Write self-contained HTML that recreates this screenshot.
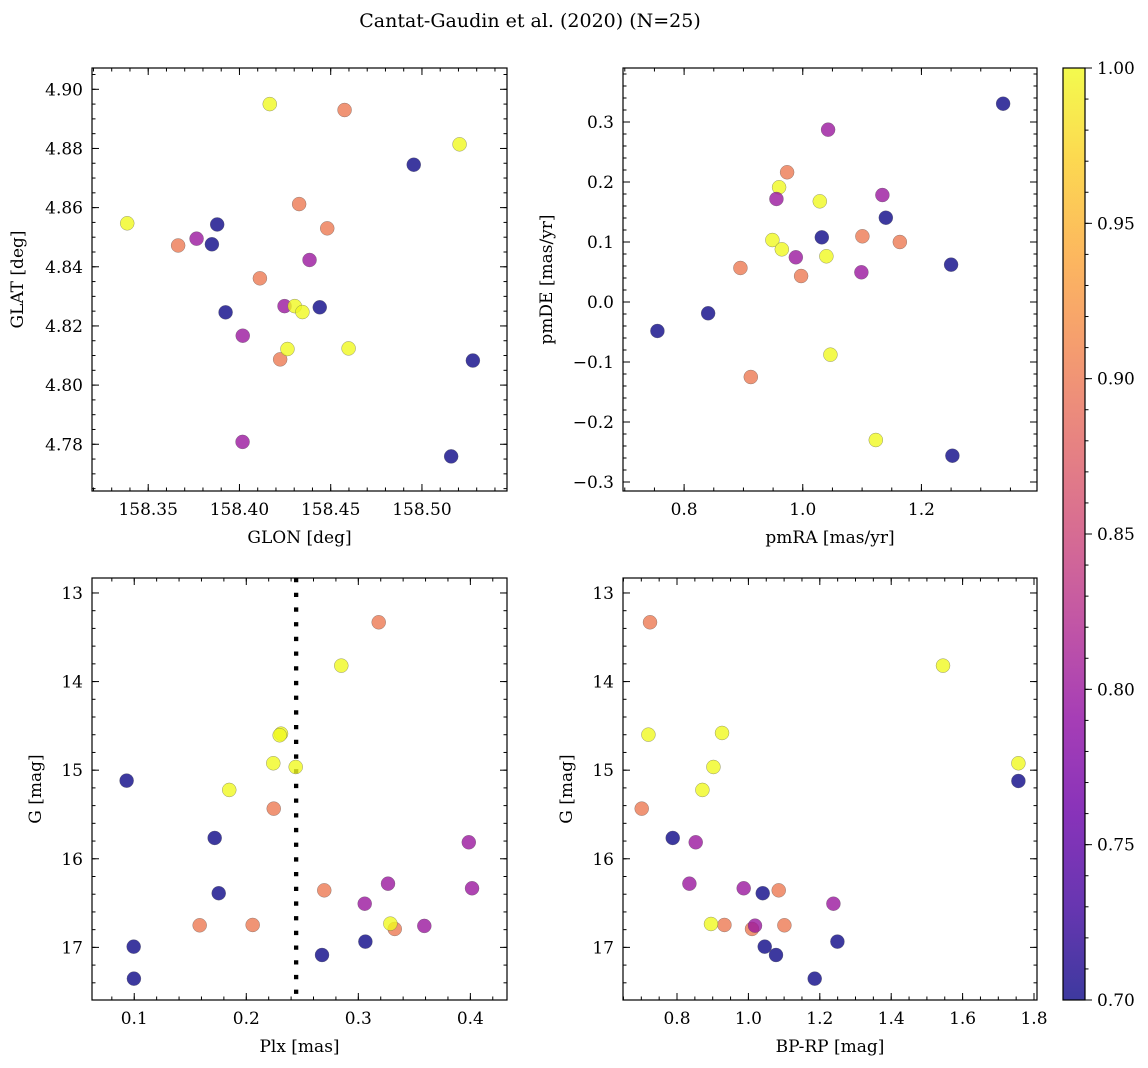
<!DOCTYPE html>
<html><head><meta charset="utf-8"><style>
html,body{margin:0;padding:0;background:#fff;}
svg{display:block;font-family:"DejaVu Serif","Liberation Serif",serif;}
</style></head><body>
<svg id="fig" width="1148" height="1068" viewBox="0 0 1148 1068" xmlns="http://www.w3.org/2000/svg">
<text x="530" y="27" text-anchor="middle" font-size="19">Cantat-Gaudin et al. (2020) (N=25)</text>
</svg>
<script>
// ---- data ----
const glon=[158.3385,158.3664,158.3765,158.3878,158.3849,158.3924,158.4018,158.4017,158.4112,158.4166,158.4223,158.4247,158.4263,158.4303,158.4345,158.4327,158.4384,158.4440,158.4481,158.4576,158.4598,158.4955,158.5206,158.5279,158.5160];
const glat=[4.8547,4.8472,4.8495,4.8543,4.8476,4.8246,4.8167,4.7808,4.8361,4.8950,4.8087,4.8267,4.8122,4.8267,4.8247,4.8612,4.8423,4.8263,4.8530,4.8930,4.8124,4.8745,4.8814,4.8083,4.7759];
const probTL=[1,0.9,0.8,0.7,0.7,0.7,0.8,0.8,0.9,1,0.9,0.8,1,1,1,0.9,0.8,0.7,0.9,0.9,1,0.7,1,0.7,0.7];

const pmra=[1.3377,1.0427,0.9736,0.9601,0.9556,1.0287,1.1342,1.1400,1.0321,1.1005,1.1636,0.9488,0.9647,0.9883,1.0398,0.8949,0.9972,1.0988,1.2500,0.8405,0.7550,1.0466,0.9124,1.1231,1.2522];
const pmde=[0.3305,0.2872,0.2162,0.1912,0.1717,0.1678,0.1783,0.1405,0.1078,0.1095,0.1000,0.1033,0.0878,0.0745,0.0762,0.0567,0.0433,0.0495,0.0622,-0.0188,-0.0483,-0.0878,-0.125,-0.230,-0.2562];
const probTR=[0.7,0.8,0.9,1,0.8,1,0.8,0.7,0.7,0.9,0.9,1,1,0.8,1,0.9,0.9,0.8,0.7,0.7,0.7,1,0.9,1,0.7];

const plx=[0.3182,0.2848,0.2310,0.2298,0.2241,0.2441,0.0932,0.1848,0.2245,0.1718,0.3986,0.3265,0.4015,0.1754,0.2696,0.3057,0.1584,0.2057,0.3325,0.3286,0.3589,0.3063,0.0995,0.2676,0.0997];
const gmagBL=[13.331,13.820,14.588,14.606,14.922,14.964,15.118,15.223,15.434,15.765,15.814,16.281,16.333,16.389,16.356,16.507,16.751,16.747,16.792,16.732,16.758,16.935,16.992,17.086,17.353];
const probBL=[0.9,1,1,1,1,1,0.7,1,0.9,0.7,0.8,0.8,0.8,0.7,0.9,0.8,0.9,0.9,0.9,1,0.8,0.7,0.7,0.7,0.7];
const plxCut=[0.2445];

const bprp=[0.7244,1.5451,0.7199,0.9261,0.9020,1.7563,1.7563,0.8711,0.7011,0.7880,0.8524,0.8347,0.9868,1.0401,1.0849,1.2381,0.9328,0.8952,1.0101,1.0185,1.1008,1.2493,1.0457,1.0773,1.1857];
const gmagBR=[13.331,13.820,14.599,14.580,14.964,14.922,15.122,15.223,15.434,15.765,15.814,16.281,16.333,16.389,16.356,16.507,16.747,16.736,16.792,16.755,16.751,16.935,16.992,17.086,17.353];
const probBR=[0.9,1,1,1,1,1,0.7,1,0.9,0.7,0.8,0.8,0.8,0.7,0.9,0.8,0.9,1,0.9,0.8,0.9,0.7,0.7,0.7,0.7];

const cbTicks=[0.70,0.75,0.80,0.85,0.90,0.95,1.00];

// ---- helpers ----
const NS="http://www.w3.org/2000/svg";
const fig=document.getElementById('fig');
function mk(tag,attrs,parent){const e=document.createElementNS(NS,tag);for(const k in attrs)e.setAttribute(k,attrs[k]);(parent||fig).appendChild(e);return e;}
const stops=[[13,8,135],[65,4,157],[106,0,168],[143,13,164],[177,42,144],[204,71,120],[225,100,98],[242,132,75],[252,166,54],[252,206,37],[240,249,33]];
function plasma(t){t=Math.max(0,Math.min(1,t));const f=t*10,i=Math.min(9,Math.floor(f)),u=f-i;const a=stops[i],b=stops[i+1];return 'rgb('+a.map((v,k)=>Math.round(v+(b[k]-v)*u)).join(',')+')';}
function fmt(v,d){const s=Math.abs(v).toFixed(d);return (v< -1e-9?'\u2212':'')+s;}

function panel(o){
  const g=mk('g',{});
  
  
  const sx=v=>o.x0+(v-o.xd[0])/(o.xd[1]-o.xd[0])*(o.x1-o.x0);
  const sy=v=>o.inv? o.y0+(v-o.yd[0])/(o.yd[1]-o.yd[0])*(o.y1-o.y0) : o.y1-(v-o.yd[0])/(o.yd[1]-o.yd[0])*(o.y1-o.y0);
  const tk=(vals,axis,len)=>{vals.forEach(v=>{
    if(axis==='x'){const X=sx(v);if(X<o.x0-0.5||X>o.x1+0.5)return;
      mk('line',{x1:X,x2:X,y1:o.y1,y2:o.y1-len,stroke:'#000','stroke-width':1},g);
      mk('line',{x1:X,x2:X,y1:o.y0,y2:o.y0+len,stroke:'#000','stroke-width':1},g);}
    else{const Y=sy(v);if(Y<o.y0-0.5||Y>o.y1+0.5)return;
      mk('line',{x1:o.x0,x2:o.x0+len,y1:Y,y2:Y,stroke:'#000','stroke-width':1},g);
      mk('line',{x1:o.x1,x2:o.x1-len,y1:Y,y2:Y,stroke:'#000','stroke-width':1},g);}
  });};
  const range=(a,b,s)=>{const r=[];for(let v=a;v<=b+s*1e-6;v+=s)r.push(+v.toFixed(6));return r;};
  tk(range(o.xMinStart,o.xd[1],o.xMinor),'x',3.5);
  tk(range(o.yMinStart,Math.max(o.yd[0],o.yd[1]),o.yMinor),'y',3.5);
  tk(o.xt,'x',7);tk(o.yt,'y',7);
  o.xt.forEach(v=>{const t=mk('text',{x:sx(v),y:o.y1+24,'text-anchor':'middle','font-size':17},g);t.textContent=fmt(v,o.xdec);
    
    });
  o.yt.forEach(v=>{const t=mk('text',{x:o.x0-9,y:sy(v)+6,'text-anchor':'end','font-size':17},g);t.textContent=fmt(v,o.ydec);
    
    });
  const xl=mk('text',{x:(o.x0+o.x1)/2,y:o.y1+52,'text-anchor':'middle','font-size':17},g);xl.textContent=o.xlabel;
  
  
  const yc=(o.y0+o.y1)/2;
  const yl=mk('text',{x:o.ylx,y:yc,'text-anchor':'middle','font-size':17,transform:'rotate(-90 '+o.ylx+' '+yc+')'},g);yl.textContent=o.ylabel;
  
  
  if(o.vline){o.vline.forEach(v=>{const l=mk('line',{x1:sx(v),x2:sx(v),y1:o.y0,y2:o.y1,stroke:'#000','stroke-width':4.3,'stroke-dasharray':'4.3 10.4'},g);
    
    });}
  o.xs.forEach((v,i)=>{const c=mk('circle',{cx:sx(v),cy:sy(o.ys[i]),r:7,fill:plasma((o.p[i]-0.7)/0.3),'fill-opacity':0.8,stroke:'#555','stroke-opacity':0.6,'stroke-width':0.5},g);
    
    });
  mk('rect',{x:o.x0,y:o.y0,width:o.x1-o.x0,height:o.y1-o.y0,fill:'none',stroke:'#000','stroke-width':1.2},g);
}

panel({name:'glon-glat-panel',x0:92,x1:507,y0:68,y1:491,xd:[158.3192,158.5466],yd:[4.7642,4.9072],
  xt:[158.35,158.40,158.45,158.50],yt:[4.78,4.80,4.82,4.84,4.86,4.88,4.90],xdec:2,ydec:2,
  xMinStart:158.32,xMinor:0.01,yMinStart:4.765,yMinor:0.005,
  xlabel:'GLON [deg]',ylabel:'GLAT [deg]',ylx:23,xs:glon,ys:glat,p:probTL});
panel({name:'proper-motion-panel',x0:623,x1:1037,y0:68,y1:491,xd:[0.6970,1.3948],yd:[-0.315,0.39],
  xt:[0.8,1.0,1.2],yt:[-0.3,-0.2,-0.1,0.0,0.1,0.2,0.3],xdec:1,ydec:1,
  xMinStart:0.70,xMinor:0.05,yMinStart:-0.30,yMinor:0.02,
  xlabel:'pmRA [mas/yr]',ylabel:'pmDE [mas/yr]',ylx:552,xs:pmra,ys:pmde,p:probTR});
panel({name:'parallax-mag-panel',x0:92,x1:507,y0:578,y1:1000,xd:[0.0623,0.4327],yd:[12.831,17.594],inv:true,
  xt:[0.1,0.2,0.3,0.4],yt:[13,14,15,16,17],xdec:1,ydec:0,
  xMinStart:0.08,xMinor:0.02,yMinStart:13.0,yMinor:0.2,
  xlabel:'Plx [mas]',ylabel:'G [mag]',ylx:41,xs:plx,ys:gmagBL,p:probBL,vline:plxCut});
panel({name:'color-mag-panel',x0:623,x1:1037,y0:578,y1:1000,xd:[0.6487,1.8084],yd:[12.831,17.594],inv:true,
  xt:[0.8,1.0,1.2,1.4,1.6,1.8],yt:[13,14,15,16,17],xdec:1,ydec:0,
  xMinStart:0.65,xMinor:0.05,yMinStart:13.0,yMinor:0.2,
  xlabel:'BP-RP [mag]',ylabel:'G [mag]',ylx:572,xs:bprp,ys:gmagBR,p:probBR});

// ---- colorbar ----
(function(){
  const cx0=1063,cx1=1085,cy0=68,cy1=1000;
  const defs=mk('defs',{});
  const lg=mk('linearGradient',{id:'plasmaGrad',x1:0,y1:1,x2:0,y2:0},defs);
  for(let i=0;i<=20;i++)mk('stop',{offset:(i/20),'stop-color':plasma(i/20),'stop-opacity':0.8},lg);
  const g=mk('g',{});
  
  
  mk('rect',{x:cx0,y:cy0,width:cx1-cx0,height:cy1-cy0,fill:'url(#plasmaGrad)'},g);
  const sy=v=>cy1-(v-0.7)/0.3*(cy1-cy0);
  for(let v=0.70;v<=1.0001;v+=0.01){const Y=sy(v);mk('line',{x1:cx1,x2:cx1+3.5,y1:Y,y2:Y,stroke:'#000','stroke-width':1},g);}
  cbTicks.forEach(v=>{const Y=sy(v);mk('line',{x1:cx1,x2:cx1+7,y1:Y,y2:Y,stroke:'#000','stroke-width':1},g);
    const t=mk('text',{x:cx1+12,y:Y+6,'font-size':17},g);t.textContent=v.toFixed(2);
    
    });
  mk('rect',{x:cx0,y:cy0,width:cx1-cx0,height:cy1-cy0,fill:'none',stroke:'#000','stroke-width':1.2},g);
})();
</script>
</body></html>
